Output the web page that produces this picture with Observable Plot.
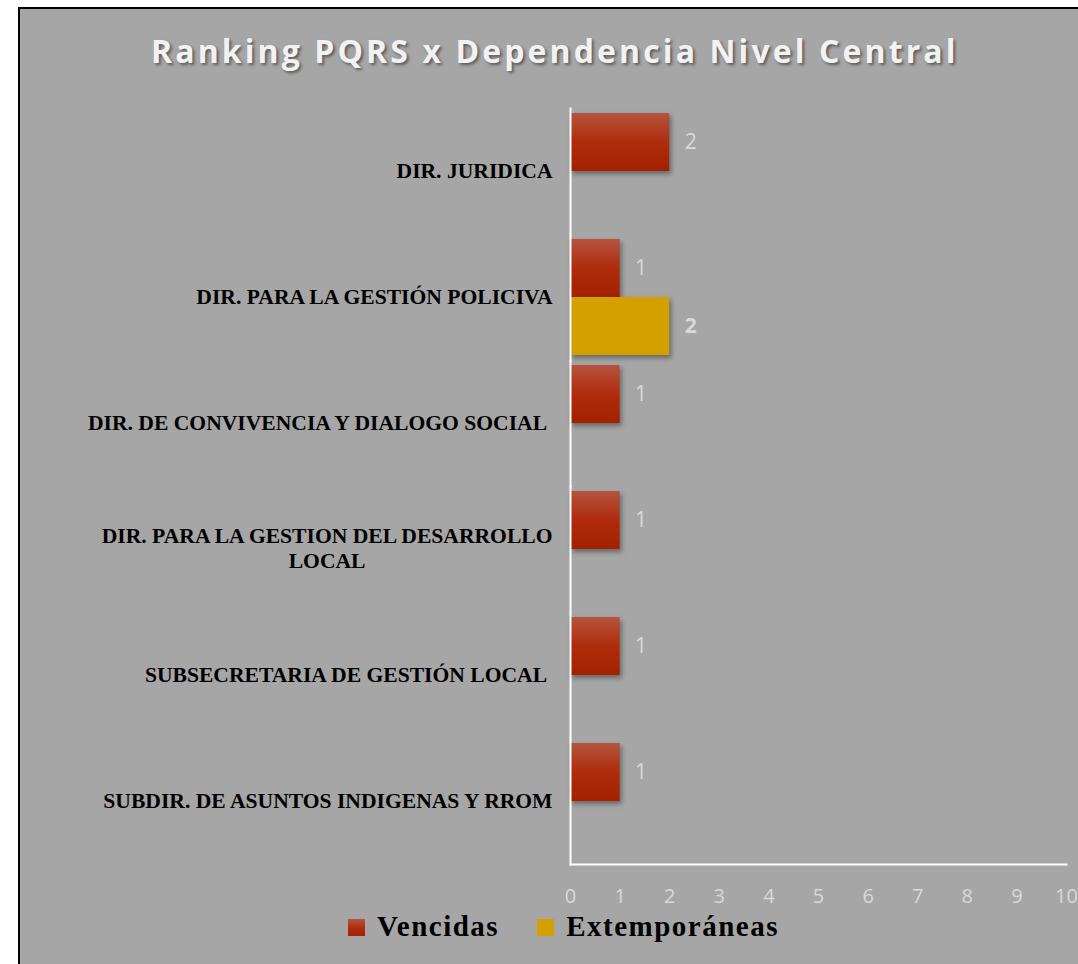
<!DOCTYPE html>
<html>
<head>
<meta charset="utf-8">
<script src="https://cdn.jsdelivr.net/npm/d3@7"></script>
<script src="https://cdn.jsdelivr.net/npm/@observablehq/plot@0.6"></script>
<style>
  html, body { margin: 0; padding: 0; background: #ffffff; width: 1078px; height: 964px; overflow: hidden; }
  #panel { position: absolute; left: 18px; top: 7px; width: 1100px; height: 1000px;
           background: #a6a6a6; border-left: 2px solid #000; border-top: 2px solid #000; }
  #title { position: absolute; left: 151px; top: 35px; line-height: 32px; white-space: nowrap;
           font-family: "Open Sans", sans-serif; font-weight: 700; font-size: 32px; letter-spacing: 3.1px;
           color: #f2f2f2; text-shadow: 2px 2px 3px rgba(0,0,0,0.45); }
  #chart { position: absolute; left: 0; top: 0; }
  #legend { position: absolute; left: 348px; top: 912px; display: flex; align-items: center;
            font-family: "Liberation Serif", serif; font-weight: 700; font-size: 29px; letter-spacing: 1.5px;
            line-height: 28px; color: #000; white-space: nowrap; }
  .item { display: flex; align-items: center; margin-right: 38px; }
  .sw { width: 17px; height: 17px; margin-right: 12px; position: relative; top: 1px; }
</style>
</head>
<body>
<div id="panel"></div>
<div id="title"></div>
<div id="chart"></div>
<div id="legend"></div>
<script>
const titleText = "Ranking PQRS x Dependencia Nivel Central";
const categories = [
  "DIR. JURIDICA",
  "DIR. PARA LA GESTIÓN POLICIVA",
  "DIR. DE CONVIVENCIA Y DIALOGO SOCIAL ",
  "DIR. PARA LA GESTION DEL DESARROLLO\nLOCAL",
  "SUBSECRETARIA DE GESTIÓN LOCAL ",
  "SUBDIR. DE ASUNTOS INDIGENAS Y RROM"
];
const series = ["Vencidas", "Extemporáneas"];
const vencidas = [2, 1, 1, 1, 1, 1];
const extemporaneas = [null, 2, null, null, null, null];
const xTicks = [0, 1, 2, 3, 4, 5, 6, 7, 8, 9, 10];
const seriesColors = ["url(#vencGrad)", "#d4a000"];
const legendSwatch = ["linear-gradient(#b5543f, #ae2c0c 55%, #a32000)", "#d4a000"];

document.getElementById("title").textContent = titleText;

const rows = [];
categories.forEach((c, i) => {
  if (vencidas[i] != null) rows.push({cat: c, serie: series[0], value: vencidas[i]});
  if (extemporaneas[i] != null) rows.push({cat: c, serie: series[1], value: extemporaneas[i]});
});
const venRows = rows.filter(d => d.serie === series[0]);
const extRows = rows.filter(d => d.serie === series[1]);

const shadow = "drop-shadow(2px 3px 2.5px rgba(0,0,0,0.38))";
const sans = "'Open Sans', sans-serif";
const serif = "'Liberation Serif', serif";

const chart = Plot.plot({
  width: 1078,
  height: 964,
  marginLeft: 570,
  marginRight: 12,
  marginTop: 107,
  marginBottom: 99,
  style: {background: "transparent", overflow: "visible"},
  x: {domain: [0, 10], axis: null},
  y: {domain: series, axis: null, paddingInner: 0, paddingOuter: 0.08},
  fy: {domain: categories, padding: 0, axis: null},
  marks: [
    Plot.barX(venRows, {x: "value", y: "serie", fy: "cat", fill: seriesColors[0], imageFilter: shadow}),
    Plot.barX(extRows, {x: "value", y: "serie", fy: "cat", fill: seriesColors[1], imageFilter: shadow}),
    Plot.text(venRows, {x: "value", y: "serie", fy: "cat", text: d => String(d.value), textAnchor: "start",
      dx: 15, fill: "#dadada", fontSize: 21, fontFamily: sans}),
    Plot.text(extRows, {x: "value", y: "serie", fy: "cat", text: d => String(d.value), textAnchor: "start",
      dx: 15, fill: "#dadada", fontSize: 21, fontFamily: sans, fontWeight: "bold"}),
    Plot.axisFy({anchor: "left", tickSize: 0, tickPadding: 18, fontSize: 21.6, fontFamily: serif,
      fontWeight: "bold", fill: "#000", lineHeight: 1.17, dy: -2, label: null,
      tickFormat: d => d.replace(/ $/, "\u00a0")}),
    Plot.axisX({ticks: xTicks, tickSize: 0, tickPadding: 24.5, fontSize: 20, fontFamily: sans,
      fill: "#d9d9d9", label: null, tickFormat: d => String(d)}),
    Plot.frame({anchor: "left", stroke: "#ffffff", strokeWidth: 2}),
    Plot.frame({anchor: "bottom", facetAnchor: "bottom", stroke: "#ffffff", strokeWidth: 2})
  ]
});

const svgSel = d3.select(chart);
const defs = svgSel.insert("defs", ":first-child");
const grad = defs.append("linearGradient").attr("id", "vencGrad")
  .attr("x1", 0).attr("y1", 0).attr("x2", 0).attr("y2", 1);
grad.append("stop").attr("offset", "0%").attr("stop-color", "#b5543f");
grad.append("stop").attr("offset", "50%").attr("stop-color", "#ae2c0c");
grad.append("stop").attr("offset", "100%").attr("stop-color", "#a32000");

document.getElementById("chart").appendChild(chart);

// center the wrapped second line under the first line, like the original label
chart.querySelectorAll("text").forEach(t => {
  const spans = t.querySelectorAll("tspan");
  if (spans.length > 1) {
    const w0 = spans[0].getComputedTextLength();
    for (let k = 1; k < spans.length; k++) {
      spans[k].setAttribute("x", -w0 / 2);
      spans[k].setAttribute("text-anchor", "middle");
    }
  }
});

const legend = d3.select("#legend");
series.forEach((s, i) => {
  const item = legend.append("div").attr("class", "item");
  item.append("div").attr("class", "sw").style("background", legendSwatch[i]);
  item.append("span").text(s);
});
</script>
</body>
</html>
